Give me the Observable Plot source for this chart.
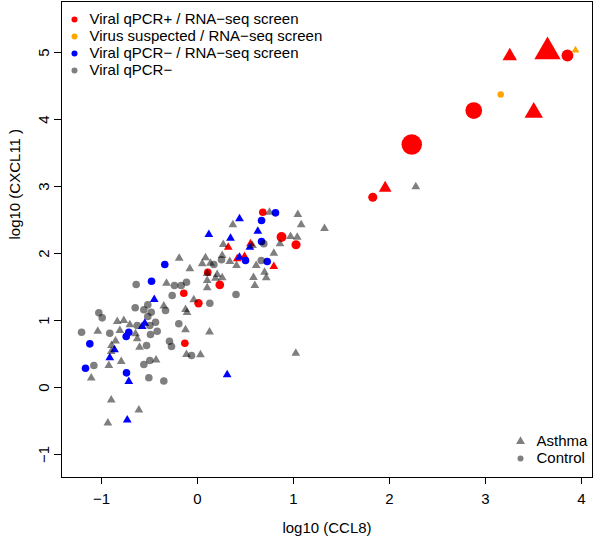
<!DOCTYPE html>
<html><head><meta charset="utf-8">
<script src="https://cdn.jsdelivr.net/npm/d3@7"></script>
<script src="https://cdn.jsdelivr.net/npm/@observablehq/plot@0.6"></script>
<style>body{margin:0;background:#fff}</style>
</head><body><div id="chart"></div>
<script>
// ---- data (log10 CCL8, log10 CXCL11) ----
const xTicks = [-1, 0, 1, 2, 3, 4];
const yTicks = [-1, 0, 1, 2, 3, 4, 5];
const groupLabels = ["Viral qPCR+ / RNA\u2212seq screen", "Virus suspected / RNA\u2212seq screen", "Viral qPCR\u2212 / RNA\u2212seq screen", "Viral qPCR\u2212"];
const shapeLabels = ["Asthma", "Control"];

const redCircX = [3.854, 2.878, 2.232, 1.826, 0.680, 0.875, 1.026, 0.107, 0.232, -0.143, 0.010, -0.132];
const redCircY = [4.955, 4.134, 3.627, 2.840, 2.616, 2.246, 2.130, 1.721, 1.533, 1.407, 1.258, 0.661];
const redCircSize = [1.55, 2.2, 2.7, 1.2, 1, 1.3, 1.2, 1, 1.15, 1, 1.1, 1];

const redTriX = [3.646, 3.253, 3.503, 1.955, 0.320, 0.552, 0.414, 0.490, 0.795];
const redTriY = [5.012, 4.946, 4.104, 2.975, 2.094, 2.145, 1.921, 1.955, 1.806];
const redTriSize = [3.0, 1.65, 2.1, 1.45, 1, 1, 1, 1, 1];

const orangeCircX = [3.159], orangeCircY = [4.373], orangeCircSize = [0.85];
const orangeTriX = [3.938], orangeTriY = [5.034], orangeTriSize = [0.9];

const blueCircX = [-0.341, -0.479, -0.716, -0.743, -1.122, -1.167, -0.740, 0.8125, 0.667, 0.667, 0.5, 0.726];
const blueCircY = [1.836, 1.587, 0.825, 0.761, 0.652, 0.288, 0.219, 2.607, 2.493, 2.179, 1.896, 1.881];
const blueTriX = [-0.451, -0.549, -0.576, -0.865, -0.914, -0.716, -0.732, 0.309, 0.4375, 0.118, 0.344, 0.628, 0.545, 0.4375];
const blueTriY = [1.313, 0.960, 0.910, 0.563, 0.443, 0.090, -0.485, 0.190, 2.518, 2.284, 2.228, 2.333, 2.094, 1.945];

const grayCircX = [-0.639, -0.240, -0.170, -0.115, -0.264, -0.518, -0.333, -0.649, -0.559, -0.482, -1.028, -0.993, -0.518, -0.4375, -0.628, -0.497, -0.195, -1.208, -0.914, -0.490, -0.420, -0.531, -0.292, -0.271, -0.559, -1.080, -0.507, -0.351, -0.497, -0.0625, 0.170, 0.25, 0.664, 0.691, 0.401, 0.128];
const grayCircY = [1.537, 1.522, 1.522, 1.572, 1.373, 1.234, 1.149, 1.190, 1.160, 1.124, 1.115, 1.040, 1.060, 0.975, 0.925, 0.925, 0.951, 0.825, 0.810, 0.791, 0.840, 0.627, 0.691, 0.612, 0.343, 0.328, 0.145, 0.097, 0.403, 0.478, 1.836, 1.906, 1.896, 2.145, 1.388, 1.258];
const grayTriX = [-0.323, -0.836, -0.768, -0.705, -1.039, -0.809, -0.646, -0.628, -0.854, -0.896, -0.604, -0.899, -0.432, -0.795, -0.924, -1.107, -0.899, -0.611, -0.934, -0.125, 0.125, -0.115, 0.031, -0.191, -0.080, 0.083, 0.049, 0.135, 0.257, 0.336, 0.406, 0.611, 0.698, 0.583, 0.716, 0.597, 0.205, 0.257, 0.1875, 0.101, 0.101, 0.101, -0.039, -0.351, -0.125, -0.109, 0.368, 0.268, 0.75, 0.795, 1.045, 1.080, 1.323, 0.969, 1.039, 0.859, 0.573, 1.024, 2.274];
const grayTriY = [1.557, 0.985, 1.0, 0.936, 0.840, 0.851, 0.801, 0.727, 0.694, 0.627, 0.601, 0.537, 0.410, 0.388, 0.328, 0.142, -0.187, -0.336, -0.530, 0.861, 0.828, 0.493, 0.488, 1.930, 1.772, 1.936, 1.846, 1.855, 1.970, 1.881, 1.821, 1.821, 1.721, 1.642, 1.637, 1.522, 1.687, 1.637, 1.631, 1.701, 1.597, 1.488, 1.309, 1.216, 1.164, 1.119, 2.428, 2.134, 2.616, 2.004, 2.582, 2.428, 2.373, 2.254, 2.243, 2.145, 2.119, 0.512, 2.996];

// ---- styles ----
const colors = ["#ff0000", "#ffa500", "#0000ff", "#000000"];
const opac = [1, 1, 1, 0.5];
const CIRC_R = 3.8, TRI_R = 3.25;
const rows = (xs, ys, sz) => xs.map((x, i) => ({x, y: ys[i], s: sz ? sz[i] : 1}));
const fmt = d => d < 0 ? "\u2212" + (-d) : String(d);

function pts(xs, ys, sz, gi, tri) {
  return Plot.dot(rows(xs, ys, sz), {
    x: "x", y: "y", symbol: tri ? "triangle" : "circle",
    r: d => d.s * (tri ? TRI_R : CIRC_R),
    fill: colors[gi], fillOpacity: opac[gi], stroke: "none"
  });
}

const legendMarks = [];
groupLabels.forEach((lab, i) => {
  legendMarks.push(Plot.dot([lab], {frameAnchor: "top-left", dx: 13, dy: 18 + 17 * i, r: 3, fill: colors[i], fillOpacity: opac[i]}));
  legendMarks.push(Plot.text([lab], {frameAnchor: "top-left", dx: 28, dy: 18 + 17 * i, text: d => d, textAnchor: "start", lineAnchor: "middle"}));
});
shapeLabels.forEach((lab, i) => {
  legendMarks.push(Plot.dot([lab], {frameAnchor: "bottom-right", dx: -72, dy: -36 + 17 * i, r: i === 0 ? 3.3 : 3, symbol: i === 0 ? "triangle" : "circle", fill: "#000", fillOpacity: 0.5}));
  legendMarks.push(Plot.text([lab], {frameAnchor: "bottom-right", dx: -56, dy: -36 + 17 * i, text: d => d, textAnchor: "start", lineAnchor: "middle"}));
});

const chart = Plot.plot({
  width: 595, height: 541,
  marginLeft: 61, marginRight: 3, marginTop: 1, marginBottom: 64,
  x: {domain: [-1.417, 4.115]},
  y: {domain: [-1.343, 5.761]},
  r: {type: "identity"},
  style: {fontFamily: "'Liberation Sans', Arial, sans-serif", fontSize: "15px", background: "white", color: "black"},
  marks: [
    Plot.frame({stroke: "black"}),
    Plot.axisX({ticks: xTicks, tickSize: 7, tickPadding: 9, tickFormat: fmt, label: null, fontSize: 15}),
    Plot.axisY({ticks: yTicks, tickSize: 7, tickFormat: () => "", label: null}),
    Plot.text(yTicks, {y: d => d, frameAnchor: "left", dx: -17, rotate: -90, text: fmt, textAnchor: "middle", lineAnchor: "middle", fontSize: 15}),
    Plot.text(["log10 (CCL8)"], {frameAnchor: "bottom", dy: 51, text: d => d, lineAnchor: "middle", fontSize: 15}),
    Plot.text(["log10 (CXCL11 )"], {frameAnchor: "left", dx: -46, rotate: -90, text: d => d, lineAnchor: "middle", fontSize: 15}),
    pts(redCircX, redCircY, redCircSize, 0, false),
    pts(redTriX, redTriY, redTriSize, 0, true),
    pts(orangeCircX, orangeCircY, orangeCircSize, 1, false),
    pts(orangeTriX, orangeTriY, orangeTriSize, 1, true),
    pts(blueCircX, blueCircY, null, 2, false),
    pts(blueTriX, blueTriY, null, 2, true),
    pts(grayCircX, grayCircY, null, 3, false),
    pts(grayTriX, grayTriY, null, 3, true),
    ...legendMarks
  ]
});
document.getElementById("chart").appendChild(chart);
</script>
</body></html>
